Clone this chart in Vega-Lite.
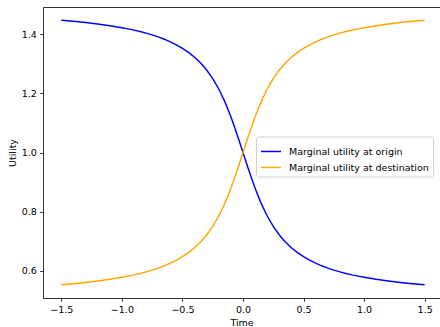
{
  "$schema": "https://vega.github.io/schema/vega-lite/v6.json",
  "width": 397,
  "height": 291,
  "autosize": {"type": "none"},
  "padding": {"left": 43, "top": 7, "right": 0, "bottom": 29},
  "background": "white",
  "config": {
    "view": {"stroke": null},
    "font": "DejaVu Sans",
    "axis": {
      "grid": false,
      "domainColor": "black",
      "domainWidth": 0.8,
      "tickColor": "black",
      "tickWidth": 0.8,
      "tickSize": 3.3,
      "labelPadding": 3.4,
      "labelFont": "DejaVu Sans",
      "labelFontSize": 9.5,
      "labelColor": "black",
      "titleFont": "DejaVu Sans",
      "titleFontSize": 9.5,
      "titleFontWeight": "normal",
      "titleColor": "black"
    }
  },
  "data": {
    "values": [
      {"t": -1.5, "Marginal utility at origin": 1.4474, "Marginal utility at destination": 0.5526},
      {"t": -1.4, "Marginal utility at origin": 1.4438, "Marginal utility at destination": 0.5562},
      {"t": -1.3, "Marginal utility at origin": 1.4395, "Marginal utility at destination": 0.5605},
      {"t": -1.2, "Marginal utility at origin": 1.4346, "Marginal utility at destination": 0.5654},
      {"t": -1.1, "Marginal utility at origin": 1.4289, "Marginal utility at destination": 0.5711},
      {"t": -1.0, "Marginal utility at origin": 1.4220, "Marginal utility at destination": 0.5780},
      {"t": -0.95, "Marginal utility at origin": 1.4181, "Marginal utility at destination": 0.5819},
      {"t": -0.9, "Marginal utility at origin": 1.4138, "Marginal utility at destination": 0.5862},
      {"t": -0.85, "Marginal utility at origin": 1.4090, "Marginal utility at destination": 0.5910},
      {"t": -0.8, "Marginal utility at origin": 1.4036, "Marginal utility at destination": 0.5964},
      {"t": -0.75, "Marginal utility at origin": 1.3976, "Marginal utility at destination": 0.6024},
      {"t": -0.7, "Marginal utility at origin": 1.3908, "Marginal utility at destination": 0.6092},
      {"t": -0.65, "Marginal utility at origin": 1.3831, "Marginal utility at destination": 0.6169},
      {"t": -0.6, "Marginal utility at origin": 1.3743, "Marginal utility at destination": 0.6257},
      {"t": -0.55, "Marginal utility at origin": 1.3642, "Marginal utility at destination": 0.6358},
      {"t": -0.5, "Marginal utility at origin": 1.3524, "Marginal utility at destination": 0.6476},
      {"t": -0.45, "Marginal utility at origin": 1.3386, "Marginal utility at destination": 0.6614},
      {"t": -0.4, "Marginal utility at origin": 1.3222, "Marginal utility at destination": 0.6778},
      {"t": -0.35, "Marginal utility at origin": 1.3026, "Marginal utility at destination": 0.6974},
      {"t": -0.3, "Marginal utility at origin": 1.2789, "Marginal utility at destination": 0.7211},
      {"t": -0.25, "Marginal utility at origin": 1.25, "Marginal utility at destination": 0.75},
      {"t": -0.2, "Marginal utility at origin": 1.2148, "Marginal utility at destination": 0.7852},
      {"t": -0.15, "Marginal utility at origin": 1.1720, "Marginal utility at destination": 0.8280},
      {"t": -0.1, "Marginal utility at origin": 1.1211, "Marginal utility at destination": 0.8789},
      {"t": -0.05, "Marginal utility at origin": 1.0628, "Marginal utility at destination": 0.9372},
      {"t": 0.0, "Marginal utility at origin": 1.0, "Marginal utility at destination": 1.0},
      {"t": 0.05, "Marginal utility at origin": 0.9372, "Marginal utility at destination": 1.0628},
      {"t": 0.1, "Marginal utility at origin": 0.8789, "Marginal utility at destination": 1.1211},
      {"t": 0.15, "Marginal utility at origin": 0.8280, "Marginal utility at destination": 1.1720},
      {"t": 0.2, "Marginal utility at origin": 0.7852, "Marginal utility at destination": 1.2148},
      {"t": 0.25, "Marginal utility at origin": 0.75, "Marginal utility at destination": 1.25},
      {"t": 0.3, "Marginal utility at origin": 0.7211, "Marginal utility at destination": 1.2789},
      {"t": 0.35, "Marginal utility at origin": 0.6974, "Marginal utility at destination": 1.3026},
      {"t": 0.4, "Marginal utility at origin": 0.6778, "Marginal utility at destination": 1.3222},
      {"t": 0.45, "Marginal utility at origin": 0.6614, "Marginal utility at destination": 1.3386},
      {"t": 0.5, "Marginal utility at origin": 0.6476, "Marginal utility at destination": 1.3524},
      {"t": 0.55, "Marginal utility at origin": 0.6358, "Marginal utility at destination": 1.3642},
      {"t": 0.6, "Marginal utility at origin": 0.6257, "Marginal utility at destination": 1.3743},
      {"t": 0.65, "Marginal utility at origin": 0.6169, "Marginal utility at destination": 1.3831},
      {"t": 0.7, "Marginal utility at origin": 0.6092, "Marginal utility at destination": 1.3908},
      {"t": 0.75, "Marginal utility at origin": 0.6024, "Marginal utility at destination": 1.3976},
      {"t": 0.8, "Marginal utility at origin": 0.5964, "Marginal utility at destination": 1.4036},
      {"t": 0.85, "Marginal utility at origin": 0.5910, "Marginal utility at destination": 1.4090},
      {"t": 0.9, "Marginal utility at origin": 0.5862, "Marginal utility at destination": 1.4138},
      {"t": 0.95, "Marginal utility at origin": 0.5819, "Marginal utility at destination": 1.4181},
      {"t": 1.0, "Marginal utility at origin": 0.5780, "Marginal utility at destination": 1.4220},
      {"t": 1.1, "Marginal utility at origin": 0.5711, "Marginal utility at destination": 1.4289},
      {"t": 1.2, "Marginal utility at origin": 0.5654, "Marginal utility at destination": 1.4346},
      {"t": 1.3, "Marginal utility at origin": 0.5605, "Marginal utility at destination": 1.4395},
      {"t": 1.4, "Marginal utility at origin": 0.5562, "Marginal utility at destination": 1.4438},
      {"t": 1.5, "Marginal utility at origin": 0.5526, "Marginal utility at destination": 1.4474}
    ]
  },
  "transform": [
    {"fold": ["Marginal utility at origin", "Marginal utility at destination"], "as": ["series", "u"]}
  ],
  "layer": [
    {
      "mark": {"type": "line", "strokeWidth": 1.45, "clip": true},
      "encoding": {
        "x": {
          "field": "t", "type": "quantitative",
          "scale": {"domain": [-1.6515, 1.6268], "nice": false, "zero": false},
          "axis": {
            "values": [-1.5, -1, -0.5, 0, 0.5, 1, 1.5],
            "labelExpr": "replace(format(datum.value, '.1f'), '-', '\u2212')",
            "title": "Time",
            "titlePadding": 3
          }
        },
        "y": {
          "field": "u", "type": "quantitative",
          "scale": {"domain": [0.508, 1.492], "nice": false, "zero": false},
          "axis": {
            "values": [0.6, 0.8, 1.0, 1.2, 1.4],
            "labelExpr": "format(datum.value, '.1f')",
            "title": "Utility",
            "titlePadding": 4
          }
        },
        "color": {
          "field": "series", "type": "nominal",
          "scale": {
            "domain": ["Marginal utility at origin", "Marginal utility at destination"],
            "range": ["#0000ff", "#ffa500"]
          },
          "legend": {
            "title": null,
            "orient": "none",
            "legendX": 213,
            "legendY": 129.5,
            "symbolType": "stroke",
            "symbolSize": 400,
            "symbolStrokeWidth": 1.45,
            "labelFont": "DejaVu Sans",
            "labelFontSize": 9.5,
            "labelColor": "black",
            "labelOffset": 7,
            "padding": 4,
            "rowPadding": -5,
            "strokeColor": "#d0d0d0",
            "fillColor": "rgba(255,255,255,0.8)",
            "cornerRadius": 2.5
          }
        }
      }
    },
    {
      "mark": {"type": "line", "opacity": 0},
      "encoding": {
        "x": {
          "field": "t", "type": "quantitative",
          "axis": {"orient": "top", "labels": false, "ticks": false, "title": null, "domain": true}
        },
        "y": {"field": "u", "type": "quantitative"},
        "detail": {"field": "series"}
      }
    }
  ],
  "resolve": {"axis": {"x": "independent"}}
}
